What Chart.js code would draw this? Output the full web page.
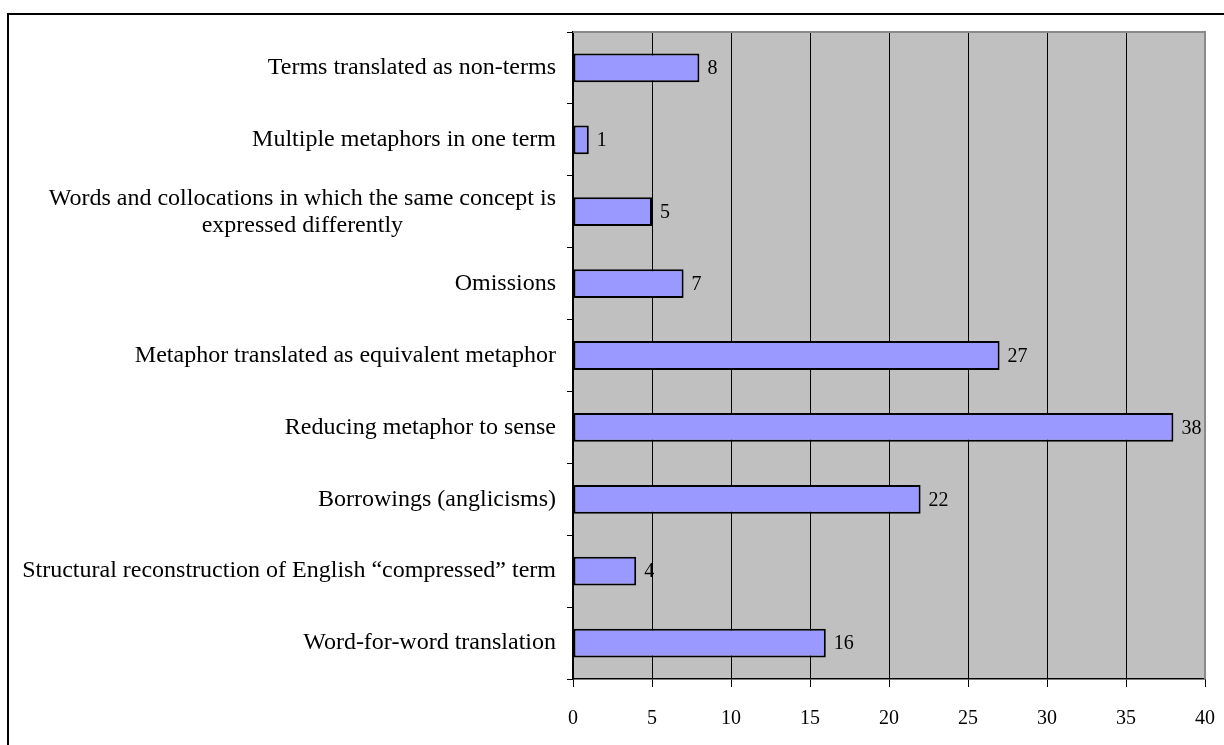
<!DOCTYPE html>
<html>
<head>
<meta charset="utf-8">
<script src="https://cdn.jsdelivr.net/npm/chart.js@4"></script>
<style>
  html, body { margin: 0; padding: 0; background: #ffffff; }
  #wrap { position: relative; width: 1224px; height: 745px; }
</style>
</head>
<body>
<div id="wrap"><canvas id="c"></canvas></div>
<script>
const categories = [
  "Terms translated as non-terms",
  "Multiple metaphors in one term",
  ["Words and collocations in which the same concept is", "expressed differently"],
  "Omissions",
  "Metaphor translated as equivalent metaphor",
  "Reducing metaphor to sense",
  "Borrowings (anglicisms)",
  "Structural reconstruction of English \u201ccompressed\u201d term",
  "Word-for-word translation"
];
const counts = [8, 1, 5, 7, 27, 38, 22, 4, 16];
const xTicks = [0, 5, 10, 15, 20, 25, 30, 35, 40];

const SERIF = '"Liberation Serif", "Times New Roman", serif';

const framePlugin = {
  id: 'frame',
  beforeDraw(chart) {
    const { ctx, chartArea: a } = chart;
    ctx.save();
    ctx.fillStyle = '#C0C0C0';
    ctx.fillRect(a.left, a.top, a.right - a.left, a.bottom - a.top);
    ctx.fillStyle = '#000000';
    ctx.fillRect(7, 13, 2, 745 - 13);
    ctx.fillRect(7, 13, 1224 - 7, 2);
    ctx.restore();
  },
  afterDatasetsDraw(chart) {
    const { ctx } = chart;
    const meta = chart.getDatasetMeta(0);
    ctx.save();
    ctx.font = '20px ' + SERIF;
    ctx.fillStyle = '#000000';
    ctx.textAlign = 'left';
    ctx.textBaseline = 'middle';
    meta.data.forEach((el, i) => {
      ctx.fillText(String(counts[i]), el.x + 8, el.y + 1);
    });
    ctx.restore();
  },
  afterDraw(chart) {
    const { ctx, chartArea: a } = chart;
    const yScale = chart.scales.y;
    ctx.save();
    ctx.strokeStyle = '#8A8A8A';
    ctx.lineWidth = 2;
    ctx.beginPath();
    ctx.moveTo(a.left, a.top);
    ctx.lineTo(a.right, a.top);
    ctx.lineTo(a.right, a.bottom);
    ctx.stroke();
    // category labels
    ctx.font = '24px ' + SERIF;
    ctx.fillStyle = '#000000';
    ctx.textAlign = 'center';
    ctx.textBaseline = 'middle';
    const rightEdge = 556;
    const lineH = 27;
    categories.forEach((lab, i) => {
      const lines = Array.isArray(lab) ? lab : [lab];
      const y = yScale.getPixelForTick(i);
      let maxW = 0;
      lines.forEach(l => { maxW = Math.max(maxW, ctx.measureText(l).width); });
      const cx = rightEdge - maxW / 2;
      const y0 = y - (lines.length - 1) * lineH / 2;
      lines.forEach((l, k) => ctx.fillText(l, cx, y0 + k * lineH));
    });
    ctx.restore();
  }
};

new Chart(document.getElementById('c'), {
  type: 'bar',
  data: {
    labels: categories,
    datasets: [{
      data: counts,
      backgroundColor: '#9999FF',
      borderColor: '#000000',
      borderWidth: 2,
      borderSkipped: false,
      barPercentage: 0.40,
      categoryPercentage: 1.0
    }]
  },
  options: {
    indexAxis: 'y',
    responsive: true,
    maintainAspectRatio: false,
    animation: false,
    layout: { padding: { top: 32, right: 19, bottom: 0, left: 0 } },
    plugins: { legend: { display: false }, tooltip: { enabled: false } },
    scales: {
      x: {
        min: 0, max: 40,
        afterBuildTicks(scale) { scale.ticks = xTicks.map(v => ({ value: v })); },
        afterFit(scale) { scale.height = 66; scale.paddingLeft = 0; scale.paddingRight = 0; },
        grid: { color: '#000000', lineWidth: 1, tickLength: 8, drawTicks: true },
        border: { color: '#000000', width: 1.5 },
        ticks: { color: '#000000', font: { family: SERIF, size: 20 }, padding: 20, maxRotation: 0 }
      },
      y: {
        offset: true,
        afterFit(scale) { scale.width = 573; scale.paddingTop = 0; scale.paddingBottom = 0; },
        grid: { offset: true, drawOnChartArea: false, color: '#000000', tickLength: 6, drawTicks: true },
        border: { color: '#000000', width: 1.5 },
        ticks: { display: false }
      }
    }
  },
  plugins: [framePlugin]
});
</script>
</body>
</html>
